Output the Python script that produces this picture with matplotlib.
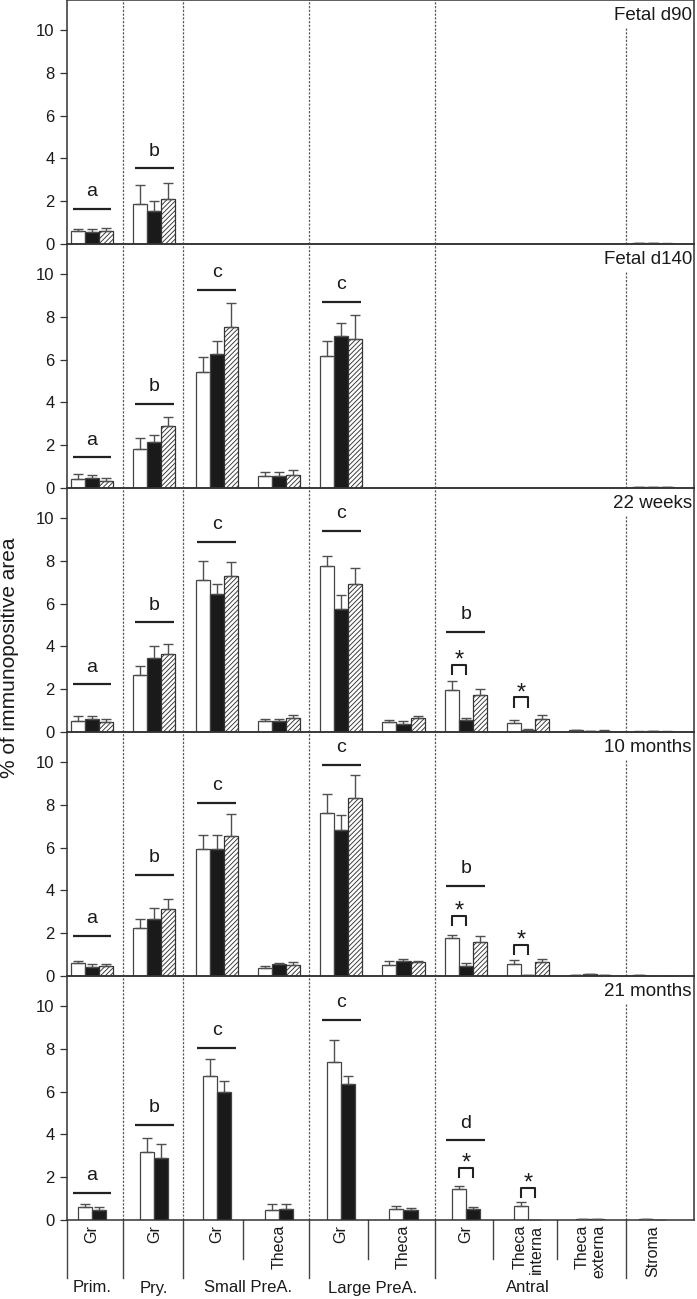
import numpy as np
import matplotlib
matplotlib.use("Agg")
import matplotlib.pyplot as plt

plt.rcParams['font.family'] = ['Liberation Sans', 'DejaVu Sans']
plt.rcParams['hatch.linewidth'] = 0.65

nan = np.nan

# ---------------- data ----------------
categories = ["Prim. Gr", "Pry. Gr", "Small Gr", "Small Theca", "Large Gr",
              "Large Theca", "Antral Gr", "Theca interna", "Theca externa", "Stroma"]
sub_labels = ["Gr", "Gr", "Gr", "Theca", "Gr", "Theca", "Gr",
              "Theca\ninterna", "Theca\nexterna", "Stroma"]
group_labels = ["Prim.", "Pry.", "Small PreA.", "Large PreA.", "Antral"]
group_members = [[0], [1], [2, 3], [4, 5], [6, 7, 8]]
panel_titles = ["Fetal d90", "Fetal d140", "22 weeks", "10 months", "21 months"]
yticks = [0, 2, 4, 6, 8, 10]

# white bars (group 1), black bars (group 2), hatched bars (group 3); SEM upper
d90_white = [0.59, 1.86, nan, nan, nan, nan, nan, nan, nan, 0.03]
d90_white_sem = [0.11, 0.88, nan, nan, nan, nan, nan, nan, nan, 0.01]
d90_black = [0.55, 1.53, nan, nan, nan, nan, nan, nan, nan, 0.05]
d90_black_sem = [0.13, 0.47, nan, nan, nan, nan, nan, nan, nan, 0.01]
d90_hatch = [0.63, 2.11, nan, nan, nan, nan, nan, nan, nan, 0.02]
d90_hatch_sem = [0.12, 0.75, nan, nan, nan, nan, nan, nan, nan, 0.01]

d140_white = [0.44, 1.81, 5.42, 0.56, 6.15, nan, nan, nan, nan, 0.03]
d140_white_sem = [0.21, 0.53, 0.72, 0.19, 0.70, nan, nan, nan, nan, 0.01]
d140_black = [0.47, 2.15, 6.28, 0.58, 7.09, nan, nan, nan, nan, 0.04]
d140_black_sem = [0.12, 0.31, 0.57, 0.17, 0.61, nan, nan, nan, nan, 0.01]
d140_hatch = [0.33, 2.88, 7.52, 0.62, 6.95, nan, nan, nan, nan, 0.03]
d140_hatch_sem = [0.14, 0.45, 1.12, 0.22, 1.15, nan, nan, nan, nan, 0.01]

w22_white = [0.51, 2.64, 7.10, 0.50, 7.75, 0.47, 1.95, 0.44, 0.10, 0.02]
w22_white_sem = [0.22, 0.46, 0.88, 0.10, 0.45, 0.09, 0.42, 0.12, 0.01, 0.01]
w22_black = [0.59, 3.46, 6.45, 0.51, 5.77, 0.37, 0.56, 0.11, 0.06, 0.05]
w22_black_sem = [0.15, 0.54, 0.48, 0.11, 0.62, 0.16, 0.09, 0.02, 0.01, 0.01]
w22_hatch = [0.45, 3.64, 7.30, 0.67, 6.90, 0.65, 1.71, 0.59, 0.07, 0.02]
w22_hatch_sem = [0.15, 0.45, 0.65, 0.11, 0.77, 0.11, 0.32, 0.19, 0.01, 0.01]

m10_white = [0.61, 2.22, 5.95, 0.36, 7.60, 0.52, 1.78, 0.58, 0.05, 0.03]
m10_white_sem = [0.11, 0.44, 0.63, 0.12, 0.92, 0.18, 0.14, 0.15, 0.01, 0.0]
m10_black = [0.42, 2.66, 5.94, 0.55, 6.81, 0.69, 0.47, 0.05, 0.08, 0.02]
m10_black_sem = [0.13, 0.54, 0.64, 0.06, 0.69, 0.11, 0.14, 0.01, 0.01, 0.0]
m10_hatch = [0.48, 3.14, 6.53, 0.50, 8.30, 0.64, 1.61, 0.66, 0.06, 0.02]
m10_hatch_sem = [0.08, 0.47, 1.03, 0.14, 1.09, 0.06, 0.25, 0.12, 0.01, 0.0]

m21_white = [0.61, 3.19, 6.75, 0.45, 7.40, 0.51, 1.46, 0.65, 0.04, 0.03]
m21_white_sem = [0.14, 0.65, 0.75, 0.28, 1.01, 0.14, 0.13, 0.19, 0.0, 0.0]
m21_black = [0.48, 2.91, 5.97, 0.53, 6.36, 0.45, 0.51, 0.02, 0.05, 0.02]
m21_black_sem = [0.13, 0.62, 0.52, 0.20, 0.39, 0.09, 0.10, 0.0, 0.0, 0.0]
m21_hatch = [nan] * 10
m21_hatch_sem = [nan] * 10

# significance letters: category index, bar height, letter
d90_sig_cat = [0, 1]
d90_sig_h = [1.64, 3.53]
d90_sig_lab = ["a", "b"]
d140_sig_cat = [0, 1, 2, 4]
d140_sig_h = [1.43, 3.94, 9.24, 8.69]
d140_sig_lab = ["a", "b", "c", "c"]
w22_sig_cat = [0, 1, 2, 4, 6]
w22_sig_h = [2.22, 5.12, 8.90, 9.40, 4.66]
w22_sig_lab = ["a", "b", "c", "c", "b"]
m10_sig_cat = [0, 1, 2, 4, 6]
m10_sig_h = [1.88, 4.72, 8.10, 9.87, 4.22]
m10_sig_lab = ["a", "b", "c", "c", "b"]
m21_sig_cat = [0, 1, 2, 4, 6]
m21_sig_h = [1.28, 4.43, 8.05, 9.36, 3.72]
m21_sig_lab = ["a", "b", "c", "c", "d"]

# asterisk brackets (white vs black): category index, bracket height
d90_star_cat, d90_star_h = [], []
d140_star_cat, d140_star_h = [], []
w22_star_cat, w22_star_h = [6, 7], [3.13, 1.62]
m10_star_cat, m10_star_h = [6, 7], [2.81, 1.44]
m21_star_cat, m21_star_h = [6, 7], [2.44, 1.51]

panels = [
    (d90_white, d90_white_sem, d90_black, d90_black_sem, d90_hatch, d90_hatch_sem,
     d90_sig_cat, d90_sig_h, d90_sig_lab, d90_star_cat, d90_star_h),
    (d140_white, d140_white_sem, d140_black, d140_black_sem, d140_hatch, d140_hatch_sem,
     d140_sig_cat, d140_sig_h, d140_sig_lab, d140_star_cat, d140_star_h),
    (w22_white, w22_white_sem, w22_black, w22_black_sem, w22_hatch, w22_hatch_sem,
     w22_sig_cat, w22_sig_h, w22_sig_lab, w22_star_cat, w22_star_h),
    (m10_white, m10_white_sem, m10_black, m10_black_sem, m10_hatch, m10_hatch_sem,
     m10_sig_cat, m10_sig_h, m10_sig_lab, m10_star_cat, m10_star_h),
    (m21_white, m21_white_sem, m21_black, m21_black_sem, m21_hatch, m21_hatch_sem,
     m21_sig_cat, m21_sig_h, m21_sig_lab, m21_star_cat, m21_star_h),
]

# ---------------- layout ----------------
W, H = 697, 1299
fig = plt.figure(figsize=(W / 100, H / 100), dpi=100)
ax_left_px, ax_right_px = 67, 694
panel_h_px = 244
slot_px = 62.3
first_center_px = 92
xlim = ((ax_left_px - first_center_px) / slot_px, (ax_right_px - first_center_px) / slot_px)
ymax = 11.4
bw = 0.225
dark = "#222222"
edge = "#444444"
sep_x = [0.5, 1.46, 3.48, 5.5, 8.57]
sub_sep_x = [2.43, 4.43, 6.43, 7.46]
sep_style = dict(color="#5a5a5a", lw=0.9, ls=(0, (1.8, 1.2)), zorder=1)

x = np.arange(len(categories))
axes = []
for i, pdata in enumerate(panels):
    (wv, ws, bv, bs, hv, hs, sc, sh, sl, stc, sth) = pdata
    bottom = 1 - (i + 1) * panel_h_px / H
    ax = fig.add_axes([ax_left_px / W, bottom, (ax_right_px - ax_left_px) / W, panel_h_px / H])
    axes.append(ax)
    wv, ws, bv, bs, hv, hs = map(np.asarray, (wv, ws, bv, bs, hv, hs))
    three = not np.all(np.isnan(hv))
    if three:
        offs = [-bw, 0.0, bw]
    else:
        offs = [-bw / 2, bw / 2, None]
    series = [(wv, ws, "white", None), (bv, bs, "#1a1a1a", None), (hv, hs, "white", "///////")]
    for (vals, sems, fc, hatch), off in zip(series, offs):
        if off is None:
            continue
        m = ~np.isnan(vals)
        if not m.any():
            continue
        ax.bar(x[m] + off, vals[m], width=bw, color=fc, edgecolor=edge if hatch is None else "#333333",
               linewidth=0.9, hatch=hatch, zorder=2)
        ax.errorbar(x[m] + off, vals[m], yerr=[np.zeros(m.sum()), sems[m]], fmt="none",
                    ecolor="#505050", elinewidth=1.0, capsize=3.4, capthick=1.0, zorder=3)

    # separators
    for sx in sep_x[:-1]:
        ax.plot([sx, sx], [0, ymax], **sep_style)
    ax.plot([sep_x[-1]] * 2, [0, ymax * (1 - 27 / panel_h_px)], **sep_style)

    # significance lines and letters
    for c, h, lab in zip(sc, sh, sl):
        ax.plot([c - 0.31, c + 0.31], [h, h], color=dark, lw=1.6, solid_capstyle="butt", zorder=4)
        ax.text(c, h + 0.6, lab, ha="center", va="baseline", fontsize=14, color="#1a1a1a")

    # asterisk brackets
    for c, h in zip(stc, sth):
        x1, x2 = c + offs[0], c + offs[1]
        ax.plot([x1, x1, x2, x2], [h - 0.43, h, h, h - 0.43], color=dark, lw=1.5, zorder=4)
        ax.text((x1 + x2) / 2, h - 0.08, "*", ha="center", va="baseline", fontsize=17, color="#1a1a1a")

    ax.text(0.9968, 1 - 15 / panel_h_px, panel_titles[i], transform=ax.transAxes,
            ha="right", va="center", fontsize=13.5, color="#1a1a1a")

    ax.set_xlim(*xlim)
    ax.set_ylim(0, ymax)
    ax.set_yticks(yticks)
    ax.set_xticks([])
    ax.tick_params(axis="y", direction="out", length=5, width=0.9, colors="#333333",
                   labelsize=12, pad=4, labelcolor="#1a1a1a")
    for s in ax.spines.values():
        s.set_color("#333333")
        s.set_linewidth(1.1)
    ax.patch.set_alpha(0)

# bottom category labels
ax = axes[-1]
tr = ax.get_xaxis_transform()
main_lines = [xlim[0]] + sep_x
for sx in main_lines:
    ax.plot([sx, sx], [0, -58 / panel_h_px], transform=tr, color="#444444", lw=1.0, clip_on=False)
for sx in sub_sep_x:
    ax.plot([sx, sx], [0, -39 / panel_h_px], transform=tr, color="#444444", lw=1.0, clip_on=False)
for xi, lab in zip(x, sub_labels):
    ax.text(xi, -5 / panel_h_px, lab, transform=tr, rotation=90, ha="center", va="top",
            multialignment="right", fontsize=11.5, linespacing=1.15, color="#1a1a1a")
for lab, mem in zip(group_labels, group_members):
    gx = (mem[0] + mem[-1]) / 2
    ax.text(gx, -68 / panel_h_px, lab, transform=tr, ha="center", va="center",
            fontsize=12, color="#1a1a1a")

fig.text(10 / W, 1 - 658 / H, "% of immunopositive area", rotation=90, ha="center",
         va="center", fontsize=15, color="#1a1a1a")

fig.savefig("out.png", dpi=100)
